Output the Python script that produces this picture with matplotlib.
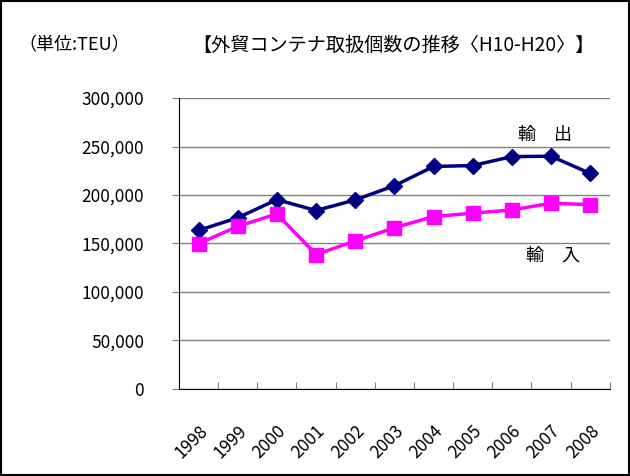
import numpy as np
import matplotlib.pyplot as plt
from matplotlib.patches import Rectangle

plt.rcParams['font.family'] = ['Noto Sans CJK JP', 'DejaVu Sans']

# data (TEU)
years = ['1998', '1999', '2000', '2001', '2002', '2003',
         '2004', '2005', '2006', '2007', '2008']
exports = [163500, 176500, 195200, 184000, 194900, 209600,
           229400, 230400, 239600, 240000, 222200]
imports = [149800, 167600, 180500, 138600, 152600, 166200,
           177800, 181200, 184600, 191500, 190100]

fig = plt.figure(figsize=(6.3, 4.76), dpi=100)
ax = fig.add_axes([0.284, 0.183, 0.684, 0.611])

x = np.arange(len(years))
ax.plot(x, exports, color='#000080', linewidth=2.5, marker='D',
        markersize=8, zorder=3)
ax.plot(x, imports, color='#FF00FF', linewidth=2.5, marker='s',
        markersize=10, zorder=3)

ax.set_xlim(-0.5, len(years) - 0.5)
ax.set_ylim(0, 300000)
ax.set_yticks(range(0, 300001, 50000))
ax.set_yticklabels([f'{v:,}' for v in range(0, 300001, 50000)], fontsize=12.5)
ax.yaxis.grid(True, color='#808080', linewidth=1)
ax.set_axisbelow(True)

# ticks at category boundaries, labels at centers
ax.set_xticks(np.arange(-0.5, len(years)), labels=[''] * (len(years) + 1))
ax.set_xticks(x, minor=True)
ax.set_xticklabels(years, minor=True, rotation=45, ha='right',
                   rotation_mode='anchor', fontsize=12.5)
ax.tick_params(axis='x', which='major', direction='in', length=5, color='gray')
ax.tick_params(axis='x', which='minor', length=0, pad=24)
ax.tick_params(axis='y', direction='out', length=5, color='gray', pad=20)

for s in ['top', 'right']:
    ax.spines[s].set_visible(False)

ax.text(8.85, 262000, '輸\u3000出', fontsize=13, ha='center', va='center')
ax.text(9.05, 138000, '輸\u3000入', fontsize=13, ha='center', va='center')

fig.text(0.03, 0.905, '（単位:TEU）', fontsize=13, va='center')
fig.text(0.305, 0.905, '【外貿コンテナ取扱個数の推移〈H10-H20〉】',
         fontsize=13.8, va='center')

fig.patches.append(Rectangle((0.002, 0.002), 0.996, 0.996, fill=False,
                             edgecolor='black', linewidth=1.5,
                             transform=fig.transFigure))

fig.savefig('out.png', dpi=100)
